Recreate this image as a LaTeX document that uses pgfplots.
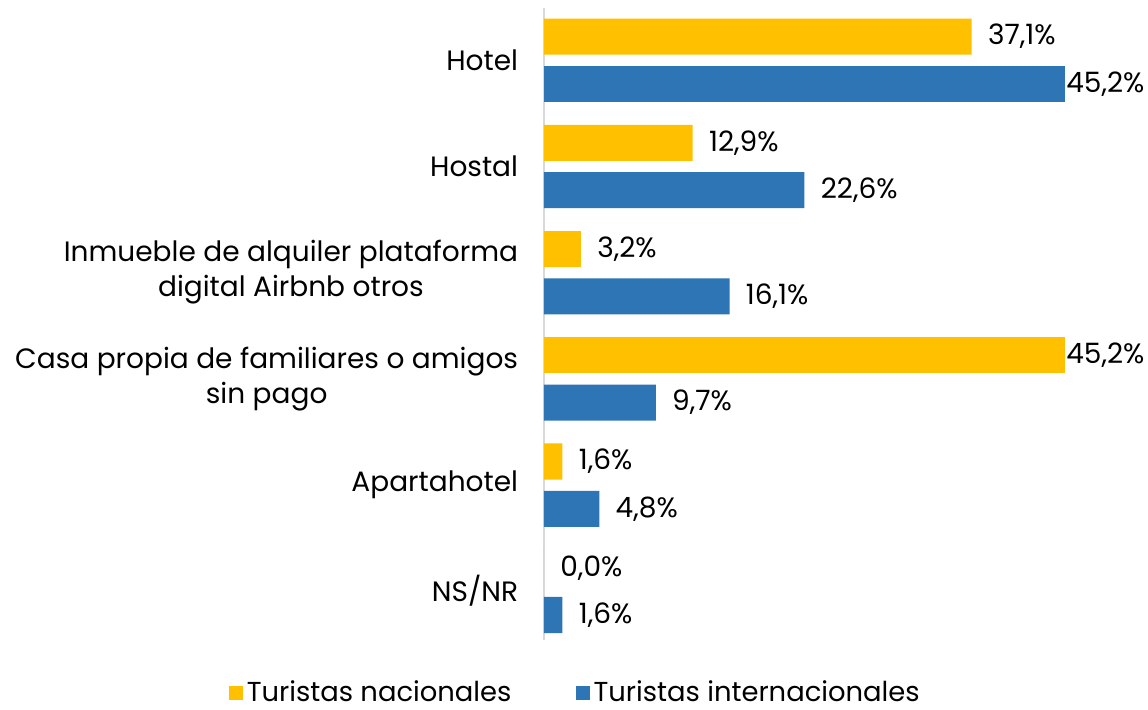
\documentclass[border=0pt]{standalone}
\usepackage{fontspec}
\setmainfont{Poppins}
\usepackage{pgfplots}
\pgfplotsset{compat=1.18}
\definecolor{nacyellow}{HTML}{FFC000}
\definecolor{intblue}{HTML}{2E75B6}
\definecolor{axisgray}{HTML}{D9D9D9}

\begin{document}
\begin{tikzpicture}
  \begin{axis}[
    scale only axis,
    width=260.5pt,
    height=316pt,
    xbar,
    bar width=0.34,
    xmin=0, xmax=45.2,
    ymin=-0.49, ymax=5.46,
    y dir=reverse,
    axis x line=none,
    axis y line*=left,
    y axis line style={draw=axisgray, line width=1pt, -},
    ytick={0,1,2,3,4,5},
    yticklabels={Hotel, Hostal, {Inmueble de alquiler plataforma\\digital Airbnb otros}, {Casa propia de familiares o amigos\\sin pago}, Apartahotel, NS/NR},
    ytick style={draw=none},
    yticklabel style={anchor=east, align=center, inner sep=0pt, xshift=-8.5pt, font=\fontsize{14}{17.5}\selectfont},
    clip=false,
    point meta=x,
    /pgf/number format/assume math mode=true,
    nodes near coords={\pgfmathprintnumber[fixed, fixed zerofill, precision=1, use comma]{\pgfplotspointmeta}\%},
    every node near coord/.append style={anchor=west, inner sep=0pt, xshift=8pt, font=\fontsize{14}{16}\selectfont, text=black},
    legend columns=2,
    legend style={draw=none, at={(0.062,0)}, anchor=center, yshift=-26.5pt,
      font=\fontsize{13.7}{16}\selectfont, inner sep=0pt,
      /tikz/every even column/.append style={column sep=30pt}},
    legend image code/.code={\fill[#1] (0pt,-3.5pt) rectangle (7pt,3.5pt);},
  ]
    % Turistas nacionales
    \addplot[fill=nacyellow, draw=none, bar shift=-0.22] coordinates {(37.1,0) (12.9,1) (3.2,2) (1.6,4) (0,5)};
    \addlegendentry{Turistas nacionales}
    % Turistas internacionales
    \addplot[fill=intblue, draw=none, bar shift=0.225] coordinates {(22.6,1) (16.1,2) (9.7,3) (4.8,4) (1.6,5)};
    \addlegendentry{Turistas internacionales}
    % bars whose labels sit right at the bar end
    \addplot[fill=nacyellow, draw=none, bar shift=-0.22, forget plot,
      every node near coord/.append style={xshift=-7.5pt}] coordinates {(45.2,3)};
    \addplot[fill=intblue, draw=none, bar shift=0.225, forget plot,
      every node near coord/.append style={xshift=-7.5pt}] coordinates {(45.2,0)};
  \end{axis}
  \pgfresetboundingbox
  \path (-272pt,-35pt) rectangle (302pt,320pt);
\end{tikzpicture}
\end{document}
